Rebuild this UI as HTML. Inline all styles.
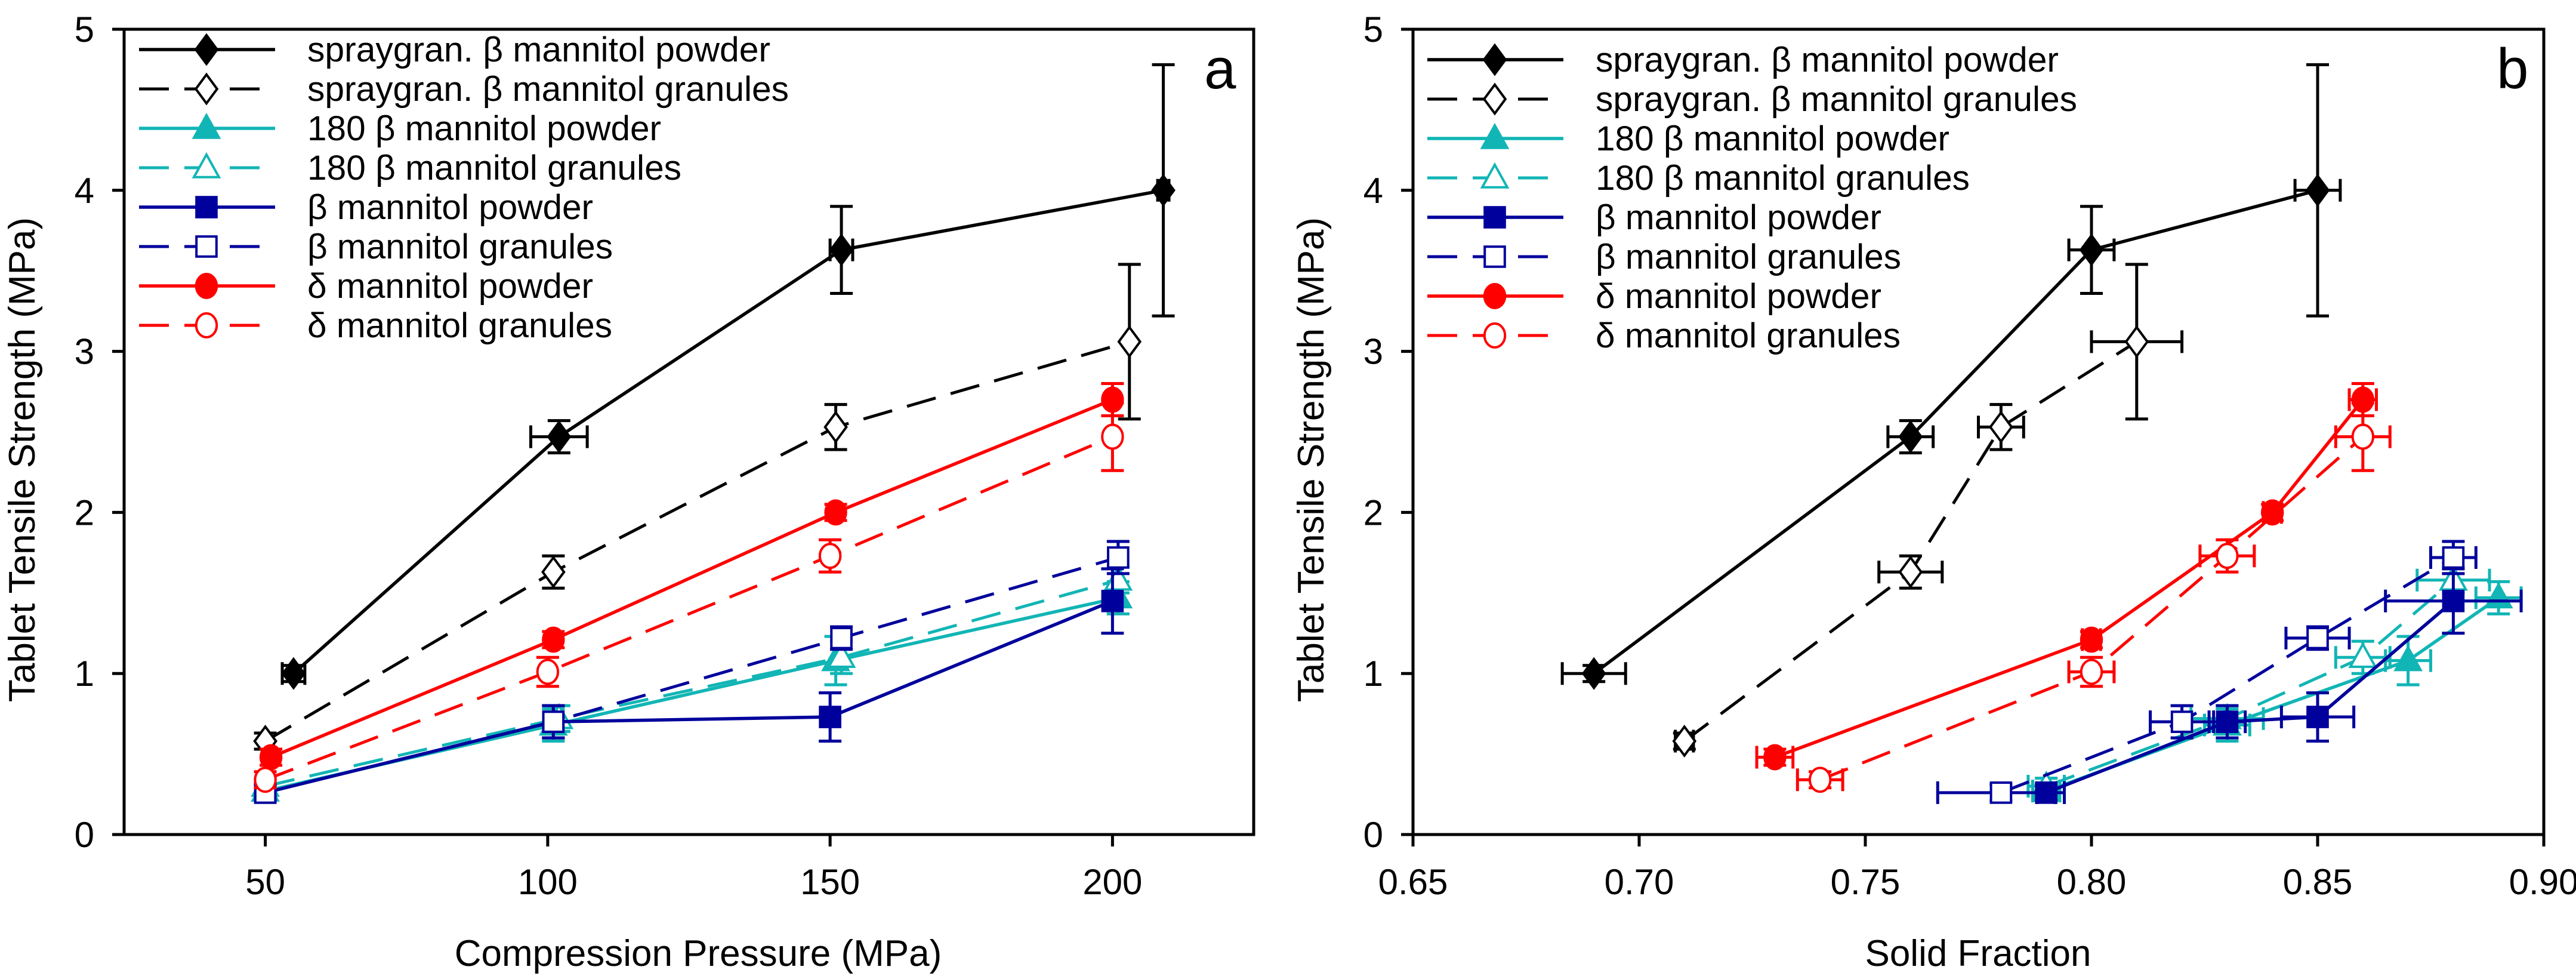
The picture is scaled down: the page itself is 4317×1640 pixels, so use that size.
<!DOCTYPE html>
<html><head><meta charset="utf-8"><style>
html,body{margin:0;padding:0;background:#fff}
svg{display:block}
text{font-family:"Liberation Sans",Arial,sans-serif;fill:#000}
</style></head><body>
<svg id="fig" width="4317" height="1640" viewBox="0 0 4317 1640" xmlns="http://www.w3.org/2000/svg"></svg>
<script>
// ---- data ----
const seriesNames = ["spraygran. β mannitol powder","spraygran. β mannitol granules","180 β mannitol powder","180 β mannitol granules","β mannitol powder","β mannitol granules","δ mannitol powder","δ mannitol granules"];
const strengthSprayPowder = [1.0, 2.47, 3.63, 4.0];
const strengthSprayGran = [0.58, 1.63, 2.53, 3.06];
const strength180Powder = [0.27, 0.68, 1.08, 1.47];
const strength180Gran = [0.30, 0.72, 1.10, 1.58];
const strengthBetaPowder = [0.26, 0.70, 0.73, 1.45];
const strengthBetaGran = [0.26, 0.70, 1.22, 1.72];
const strengthDeltaPowder = [0.48, 1.21, 2.0, 2.7];
const strengthDeltaGran = [0.34, 1.01, 1.73, 2.47];
const yErrSprayPowder = [0.05, 0.1, 0.27, 0.78];
const yErrSprayGran = [0.05, 0.1, 0.14, 0.48];
const yErr180Powder = [0.05, 0.1, 0.15, 0.1];
const yErr180Gran = [0.05, 0.08, 0.1, 0.08];
const yErrBetaPowder = [0.05, 0.1, 0.15, 0.2];
const yErrBetaGran = [0.05, 0.1, 0.07, 0.1];
const yErrDeltaPowder = [0.05, 0.05, 0.05, 0.1];
const yErrDeltaGran = [0.05, 0.09, 0.1, 0.21];
const pressSprayPowder = [55, 102, 152, 209];
const pressSprayGran = [50, 101, 151, 203];
const press180Powder = [50, 101, 151, 201];
const press180Gran = [50, 102, 152, 201];
const pressBetaPowder = [50, 101, 150, 200];
const pressBetaGran = [50, 101, 152, 201];
const pressDeltaPowder = [51, 101, 151, 200];
const pressDeltaGran = [50, 100, 150, 200];
const pressErrSprayPowder = [2, 5, 2, 1];
const fracSprayPowder = [0.69, 0.76, 0.80, 0.85];
const fracSprayGran = [0.71, 0.76, 0.78, 0.81];
const frac180Powder = [0.79, 0.83, 0.87, 0.89];
const frac180Gran = [0.79, 0.83, 0.86, 0.88];
const fracBetaPowder = [0.79, 0.83, 0.85, 0.88];
const fracBetaGran = [0.78, 0.82, 0.85, 0.88];
const fracDeltaPowder = [0.73, 0.80, 0.84, 0.86];
const fracDeltaGran = [0.74, 0.80, 0.83, 0.86];
const fracErrSprayPowder = [0.007, 0.005, 0.005, 0.005];
const fracErrSprayGran = [0.002, 0.007, 0.005, 0.01];
const fracErr180Powder = [0.003, 0.005, 0.005, 0.005];
const fracErr180Gran = [0.004, 0.008, 0.006, 0.008];
const fracErrBetaPowder = [0.002, 0.004, 0.008, 0.015];
const fracErrBetaGran = [0.014, 0.007, 0.007, 0.005];
const fracErrDeltaPowder = [0.004, 0.002, 0.002, 0.003];
const fracErrDeltaGran = [0.005, 0.005, 0.006, 0.006];
const yTicks = [0, 1, 2, 3, 4, 5];
const xTicksA = [50, 100, 150, 200];
const xTicksB = [0.65, 0.70, 0.75, 0.80, 0.85, 0.90];
const xTickLabelsB = ["0.65","0.70","0.75","0.80","0.85","0.90"];

const NS = "http://www.w3.org/2000/svg";
const svg = document.getElementById("fig");
function el(tag, attrs, parent) {
  const e = document.createElementNS(NS, tag);
  for (const k in attrs) e.setAttribute(k, attrs[k]);
  (parent || svg).appendChild(e);
  return e;
}
const styles = [
  {c:"#000000", dash:false, m:"diamond", fill:true},
  {c:"#000000", dash:true, m:"diamond", fill:false},
  {c:"#12b5b5", dash:false, m:"tri", fill:true},
  {c:"#12b5b5", dash:true, m:"tri", fill:false},
  {c:"#00009c", dash:false, m:"square", fill:true},
  {c:"#00009c", dash:true, m:"square", fill:false},
  {c:"#ff0000", dash:false, m:"circle", fill:true},
  {c:"#ff0000", dash:true, m:"circle", fill:false}
];
const ys = [strengthSprayPowder,strengthSprayGran,strength180Powder,strength180Gran,strengthBetaPowder,strengthBetaGran,strengthDeltaPowder,strengthDeltaGran];
const yErrs = [yErrSprayPowder,yErrSprayGran,yErr180Powder,yErr180Gran,yErrBetaPowder,yErrBetaGran,yErrDeltaPowder,yErrDeltaGran];
const xsA = [pressSprayPowder,pressSprayGran,press180Powder,press180Gran,pressBetaPowder,pressBetaGran,pressDeltaPowder,pressDeltaGran];
const xErrA = [pressErrSprayPowder,null,null,null,null,null,null,null];
const xsB = [fracSprayPowder,fracSprayGran,frac180Powder,frac180Gran,fracBetaPowder,fracBetaGran,fracDeltaPowder,fracDeltaGran];
const xErrB = [fracErrSprayPowder,fracErrSprayGran,fracErr180Powder,fracErr180Gran,fracErrBetaPowder,fracErrBetaGran,fracErrDeltaPowder,fracErrDeltaGran];
const legendWidths = [776, 807, 593, 627, 479, 512, 479, 511];

const Y0 = 1398, Y5 = 49;
function yScale(v){ return Y0 + (Y5 - Y0) * v / 5; }

function marker(g, m, x, y, st, s) {
  const f = st.fill ? st.c : "#fff";
  let e;
  if (m === "diamond") e = el("polygon", {points:`${x},${y-s*1.15} ${x+s*0.85},${y} ${x},${y+s*1.15} ${x-s*0.85},${y}`, fill:f, stroke:st.c, "stroke-width":4}, g);
  else if (m === "tri") e = el("polygon", {points:`${x},${y-s*1.05} ${x+s},${y+s*0.75} ${x-s},${y+s*0.75}`, fill:f, stroke:st.c, "stroke-width":4}, g);
  else if (m === "square") e = el("rect", {x:x-s*0.8, y:y-s*0.8, width:s*1.6, height:s*1.6, fill:f, stroke:st.c, "stroke-width":4}, g);
  else e = el("ellipse", {cx:x, cy:y, rx:s*0.82, ry:s*0.95, fill:f, stroke:st.c, "stroke-width":4}, g);
  
  
}

function panel(id, L, R, xmin, xmax, xs, xerrs, xticks, xtickLabels, xTitle, xTitleX, letter, letterX, legX) {
  const xScale = v => L + (R - L) * (v - xmin) / (xmax - xmin);
  const g = el("g", {});
  
  
  const fr = el("rect", {x:L, y:Y5, width:R-L, height:Y0-Y5, fill:"none", stroke:"#000", "stroke-width":5}, g);
  
  
  yTicks.forEach(t => {
    const y = yScale(t);
    const tk = el("line", {x1:L-20, x2:L, y1:y, y2:y, stroke:"#000", "stroke-width":5}, g);
    
    
    const tl = el("text", {x:L-50, y:y+21, "text-anchor":"end", "font-size":60}, g);
    tl.textContent = t;
    
    
  });
  xticks.forEach((t, i) => {
    const x = xScale(t);
    const tk = el("line", {x1:x, x2:x, y1:Y0, y2:Y0+20, stroke:"#000", "stroke-width":5}, g);
    
    
    const tl = el("text", {x:x, y:Y0+100, "text-anchor":"middle", "font-size":60}, g);
    tl.textContent = xtickLabels[i];
    
    
  });
  const yt = el("text", {x:0, y:0, "text-anchor":"middle", "font-size":62, transform:`translate(${L-150},770) rotate(-90)`}, g);
  yt.textContent = "Tablet Tensile Strength (MPa)";
  
  
  const xt = el("text", {x:xTitleX, y:1618, "text-anchor":"middle", "font-size":62}, g);
  xt.textContent = xTitle;
  
  
  const lt = el("text", {x:letterX, y:148, "font-size":96}, g);
  lt.textContent = letter;
  
  

  for (let s = 0; s < 8; s++) {
    const st = styles[s];
    const sg = el("g", {}, g);
    
    
    const pts = xs[s].map((v, i) => `${xScale(v)},${yScale(ys[s][i])}`).join(" ");
    const pl = el("polyline", {points:pts, fill:"none", stroke:st.c, "stroke-width":st.dash?5:5.5, "stroke-dasharray":st.dash?"50,26":"none"}, sg);
    
    
    xs[s].forEach((v, i) => {
      const x = xScale(v), y = yScale(ys[s][i]);
      const e = yErrs[s][i];
      const y1 = yScale(ys[s][i] + e), y2 = yScale(ys[s][i] - e);
      const eb = el("path", {d:`M${x},${y1}V${y2}M${x-19},${y1}H${x+19}M${x-19},${y2}H${x+19}`, stroke:st.c, "stroke-width":5, fill:"none"}, sg);
      
      
      if (xerrs[s]) {
        const xe = xerrs[s][i];
        const xa = xScale(v - xe), xb = xScale(v + xe);
        const ex = el("path", {d:`M${xa},${y}H${xb}M${xa},${y-19}V${y+19}M${xb},${y-19}V${y+19}`, stroke:st.c, "stroke-width":5, fill:"none"}, sg);
        
        
      }
      marker(sg, st.m, x, y, st, 21);
    });
  }
  const lg = el("g", {}, g);
  
  
  const rowY0 = id === "a" ? 83 : 100, rowDY = 66;
  seriesNames.forEach((n, i) => {
    const st = styles[i];
    const y = rowY0 + i * rowDY;
    const le = el("g", {}, lg);
    
    
    el("line", {x1:legX, x2:legX+228, y1:y, y2:y, stroke:st.c, "stroke-width":st.dash?5:5.5, "stroke-dasharray":st.dash?"50,26":"none"}, le);
    marker(le, st.m, legX+113, y, st, 21);
    const t = el("text", {x:legX+282, y:y+20, "font-size":58, textLength:legendWidths[i], lengthAdjust:"spacingAndGlyphs"}, le);
    t.textContent = n;
  });
}

panel("a", 208, 2101, 25, 225, xsA, xErrA, xTicksA, xTicksA.map(String), "Compression Pressure (MPa)", 1170, "a", 2018, 233);
panel("b", 2368, 4263, 0.65, 0.90, xsB, xErrB, xTicksB, xTickLabelsB, "Solid Fraction", 3315, "b", 4184, 2392);
</script>
</body></html>
